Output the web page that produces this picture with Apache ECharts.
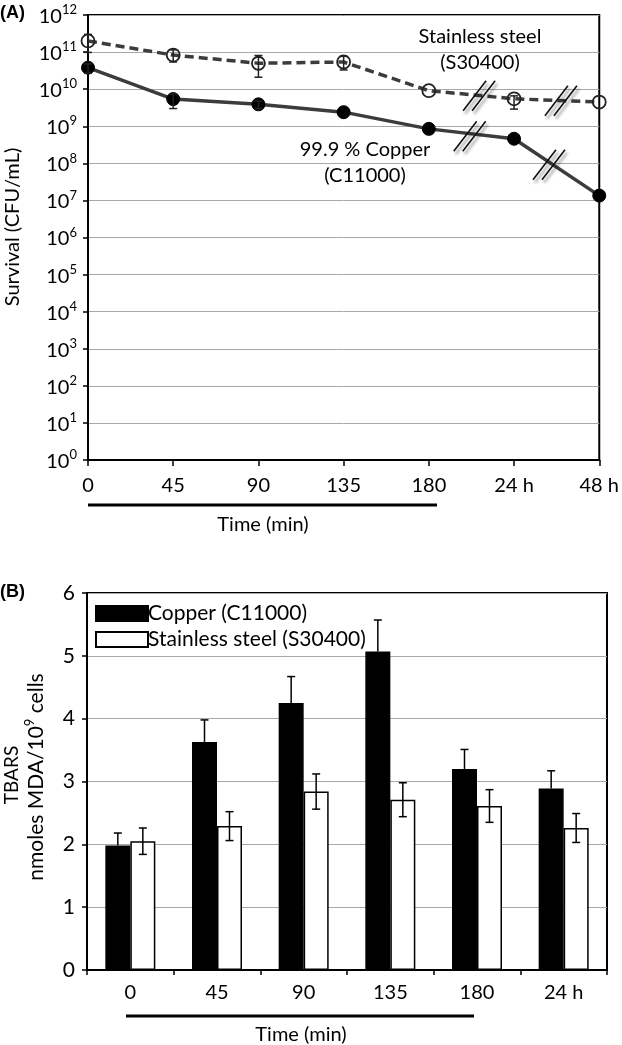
<!DOCTYPE html>
<html><head><meta charset="utf-8">
<script src="https://cdn.jsdelivr.net/npm/echarts@6/dist/echarts.min.js"></script>
<style>html,body{margin:0;padding:0;background:#fff}#c{width:622px;height:1045px}</style>
</head><body><div id="c"></div>
<script>
// ---- Panel A data ----
const timeLabelsA = ['0', '45', '90', '135', '180', '24 h', '48 h'];
const steelA     = [2.0e11, 8.3e10, 5.0e10, 5.4e10, 9.1e9, 5.5e9, 4.5e9];
const steelAHigh = [3.0e11, 1.15e11, 8.1e10, 7.7e10, null, 6.6e9, null];
const steelALow  = [9.8e10, 5.4e10, 2.1e10, 3.3e10, null, 2.9e9, null];
const copperA     = [3.8e10, 5.4e9, 3.9e9, 2.4e9, 8.5e8, 4.6e8, 1.35e7];
const copperAHigh = [4.8e10, 7.4e9, 4.8e9, null, null, null, null];
const copperALow  = [2.7e10, 3.0e9, 3.0e9, null, null, null, null];
const breaksA = [[4.59, 6.6e9], [5.55, 4.9e9], [4.48, 5.4e8], [5.41, 9.1e7]];

// ---- Panel B data ----
const timeLabelsB = ['0', '45', '90', '135', '180', '24 h'];
const copperB    = [1.98, 3.63, 4.25, 5.07, 3.20, 2.89];
const copperBErr = [0.20, 0.35, 0.42, 0.50, 0.31, 0.28];
const steelB     = [2.05, 2.29, 2.84, 2.71, 2.61, 2.26];
const steelBErr  = [0.21, 0.23, 0.28, 0.27, 0.26, 0.23];

const FONT = 'Lato';
const BAR_W = 25;

function errA(params, api) {
  const x = api.value(0), lo = api.value(1), hi = api.value(2);
  const p1 = api.coord([x, hi]), p2 = api.coord([x, lo]);
  const cw = 4, st = { stroke: '#222', lineWidth: 1.5 };
  return { type: 'group', children: [
    { type: 'line', shape: { x1: p1[0], y1: p1[1], x2: p2[0], y2: p2[1] }, style: st },
    { type: 'line', shape: { x1: p1[0] - cw, y1: p1[1], x2: p1[0] + cw, y2: p1[1] }, style: st },
    { type: 'line', shape: { x1: p2[0] - cw, y1: p2[1], x2: p2[0] + cw, y2: p2[1] }, style: st }
  ]};
}
function breakMark(params, api) {
  const c = api.coord([api.value(0), api.value(1)]);
  const ch = [];
  [-4.5, 4.5].forEach(function (d) {
    ch.push({ type: 'line', shape: { x1: c[0] + d - 11.5, y1: c[1] + 15, x2: c[0] + d + 11.5, y2: c[1] - 15 },
      style: { stroke: '#111', lineWidth: 1.6, shadowBlur: 3, shadowColor: 'rgba(0,0,0,0.45)', shadowOffsetX: 2, shadowOffsetY: 3 } });
  });
  return { type: 'group', children: ch };
}
function errB(sign, upOnly) {
  return function (params, api) {
    const i = api.value(0), v = api.value(1), e = api.value(2);
    const top = api.coord([i, v + e]);
    const bot = api.coord([i, upOnly ? v : v - e]);
    const x = top[0] + sign * BAR_W / 2;
    const cw = 4, st = { stroke: '#000', lineWidth: 1.5 };
    const ch = [
      { type: 'line', shape: { x1: x, y1: top[1], x2: x, y2: bot[1] }, style: st },
      { type: 'line', shape: { x1: x - cw, y1: top[1], x2: x + cw, y2: top[1] }, style: st }
    ];
    if (!upOnly) ch.push({ type: 'line', shape: { x1: x - cw, y1: bot[1], x2: x + cw, y2: bot[1] }, style: st });
    return { type: 'group', children: ch };
  };
}
function errData(vals, hi, lo) {
  const out = [];
  vals.forEach(function (v, i) { if (hi[i] != null) out.push([i, lo[i], hi[i]]); });
  return out;
}

const supRich = {
  b: { fontSize: 20, fontFamily: FONT, color: '#000', verticalAlign: 'bottom', lineHeight: 23 },
  sup: { fontSize: 13, fontFamily: FONT, color: '#000', verticalAlign: 'top', lineHeight: 13 }
};
const supRich2 = {
  b: { fontSize: 21, fontFamily: FONT, color: '#000', verticalAlign: 'bottom', lineHeight: 24 },
  sup: { fontSize: 13, fontFamily: FONT, color: '#000', verticalAlign: 'top', lineHeight: 13 }
};

const chart = echarts.init(document.getElementById('c'), null, { renderer: 'canvas' });
chart.setOption({
  animation: false,
  textStyle: { fontFamily: FONT },
  grid: [
    { left: 88, right: 18, top: 15, height: 445, show: true, borderColor: '#000', borderWidth: 2, containLabel: false },
    { left: 87, right: 15, top: 593, height: 377, show: true, borderColor: '#000', borderWidth: 2, containLabel: false }
  ],
  legend: {
    show: true, orient: 'vertical', left: 90, top: 598, itemWidth: 52, itemHeight: 15, itemGap: 5,
    data: ['Copper (C11000)', 'Stainless steel (S30400)'],
    textStyle: { fontSize: 21, color: '#000', fontFamily: FONT, padding: [0, 0, 0, -5] },
    icon: 'rect'
  },
  xAxis: [
    { gridIndex: 0, type: 'value', min: 0, max: 6, interval: 1,
      axisLine: { lineStyle: { color: '#000', width: 2 } },
      axisTick: { show: true, length: 6, lineStyle: { color: '#000', width: 1.5 } },
      axisLabel: { formatter: function (v) { return timeLabelsA[v]; }, fontSize: 20, color: '#000', margin: 16, fontFamily: FONT, showMinLabel: true, showMaxLabel: true },
      splitLine: { show: false } },
    { gridIndex: 1, type: 'category', data: timeLabelsB,
      axisLine: { lineStyle: { color: '#000', width: 2 } },
      axisTick: { show: true, length: 5, lineStyle: { color: '#000', width: 1.5 } },
      axisLabel: { fontSize: 20, color: '#000', margin: 13, fontFamily: FONT },
      splitLine: { show: false } }
  ],
  yAxis: [
    { gridIndex: 0, type: 'log', logBase: 10, min: 1, max: 1e12, interval: 1,
      axisLine: { lineStyle: { color: '#000', width: 2 } },
      axisTick: { show: true, length: 5, lineStyle: { color: '#000', width: 1.5 } },
      splitLine: { show: true, lineStyle: { color: '#a8a8a8', width: 1 } },
      axisLabel: { margin: 11, formatter: function (v) { return '{b|10}{sup|' + Math.round(Math.log10(v)) + '}'; }, rich: supRich } },
    { gridIndex: 1, type: 'value', min: 0, max: 6, interval: 1,
      axisLine: { show: true, lineStyle: { color: '#000', width: 2 } },
      axisTick: { show: true, length: 5, lineStyle: { color: '#000', width: 1.5 } },
      splitLine: { show: true, lineStyle: { color: '#a8a8a8', width: 1 } },
      axisLabel: { fontSize: 21, color: '#000', margin: 12, fontFamily: FONT } }
  ],
  series: [
    { name: 'Stainless steel A', type: 'line', xAxisIndex: 0, yAxisIndex: 0, z: 3,
      data: steelA.map(function (v, i) { return [i, v]; }),
      symbol: 'circle', symbolSize: 13,
      lineStyle: { color: '#3c3c3c', width: 3.5, type: [9, 5] },
      itemStyle: { color: 'rgba(255,255,255,0)', borderColor: '#222', borderWidth: 1.8 } },
    { name: 'Copper A', type: 'line', xAxisIndex: 0, yAxisIndex: 0, z: 3,
      data: copperA.map(function (v, i) { return [i, v]; }),
      symbol: 'circle', symbolSize: 13,
      lineStyle: { color: '#3c3c3c', width: 3.5 },
      itemStyle: { color: '#000', borderColor: '#000', borderWidth: 1 } },
    { name: 'errSteelA', type: 'custom', xAxisIndex: 0, yAxisIndex: 0, z: 4, renderItem: errA,
      data: errData(steelA, steelAHigh, steelALow) },
    { name: 'errCopperA', type: 'custom', xAxisIndex: 0, yAxisIndex: 0, z: 4, renderItem: errA,
      data: errData(copperA, copperAHigh, copperALow) },
    { name: 'breaks', type: 'custom', xAxisIndex: 0, yAxisIndex: 0, z: 5, renderItem: breakMark,
      data: breaksA },
    { name: 'Copper (C11000)', type: 'bar', xAxisIndex: 1, yAxisIndex: 1, barWidth: BAR_W, barGap: '0%',
      data: copperB, itemStyle: { color: '#000', borderColor: '#000', borderWidth: 1.5 } },
    { name: 'Stainless steel (S30400)', type: 'bar', xAxisIndex: 1, yAxisIndex: 1, barWidth: BAR_W, barGap: '0%',
      data: steelB, itemStyle: { color: '#fff', borderColor: '#000', borderWidth: 1.5 } },
    { name: 'errCopperB', type: 'custom', xAxisIndex: 1, yAxisIndex: 1, z: 4, renderItem: errB(-1, true),
      data: copperB.map(function (v, i) { return [i, v, copperBErr[i]]; }) },
    { name: 'errSteelB', type: 'custom', xAxisIndex: 1, yAxisIndex: 1, z: 4, renderItem: errB(1, false),
      data: steelB.map(function (v, i) { return [i, v, steelBErr[i]]; }) }
  ],
  graphic: [
    { type: 'text', left: 0, top: 4, style: { text: '(A)', font: 'bold 18px "Liberation Sans"', fill: '#000' } },
    { type: 'text', left: 0, top: 583, style: { text: '(B)', font: 'bold 18px "Liberation Sans"', fill: '#000' } },
    { type: 'text', x: 13, y: 227, rotation: Math.PI / 2,
      style: { text: 'Survival (CFU/mL)', font: '20px Lato', fill: '#000', align: 'center', verticalAlign: 'middle' } },
    { type: 'text', x: 480, y: 37, style: { text: 'Stainless steel', font: '20px Lato', fill: '#000', align: 'center', verticalAlign: 'middle' } },
    { type: 'text', x: 480, y: 63, style: { text: '(S30400)', font: '20px Lato', fill: '#000', align: 'center', verticalAlign: 'middle' } },
    { type: 'text', x: 365, y: 150, style: { text: '99.9 % Copper', font: '20px Lato', fill: '#000', align: 'center', verticalAlign: 'middle' } },
    { type: 'text', x: 365, y: 176, style: { text: '(C11000)', font: '20px Lato', fill: '#000', align: 'center', verticalAlign: 'middle' } },
    { type: 'line', shape: { x1: 88, y1: 505, x2: 437, y2: 505 }, style: { stroke: '#000', lineWidth: 3 } },
    { type: 'text', x: 263, y: 525, style: { text: 'Time (min)', font: '20px Lato', fill: '#000', align: 'center', verticalAlign: 'middle' } },
    { type: 'line', shape: { x1: 126, y1: 1016, x2: 474, y2: 1016 }, style: { stroke: '#000', lineWidth: 3 } },
    { type: 'text', x: 301, y: 1035, style: { text: 'Time (min)', font: '20px Lato', fill: '#000', align: 'center', verticalAlign: 'middle' } },
    { type: 'text', x: 12, y: 775, rotation: Math.PI / 2,
      style: { text: 'TBARS', font: '19px Lato', fill: '#000', align: 'center', verticalAlign: 'middle' } },
    { type: 'text', x: 35, y: 777, rotation: Math.PI / 2,
      style: { text: '{b|nmoles MDA/10}{sup|9}{b| cells}', align: 'center', verticalAlign: 'middle', rich: supRich2 } }
  ]
});
</script></body></html>
